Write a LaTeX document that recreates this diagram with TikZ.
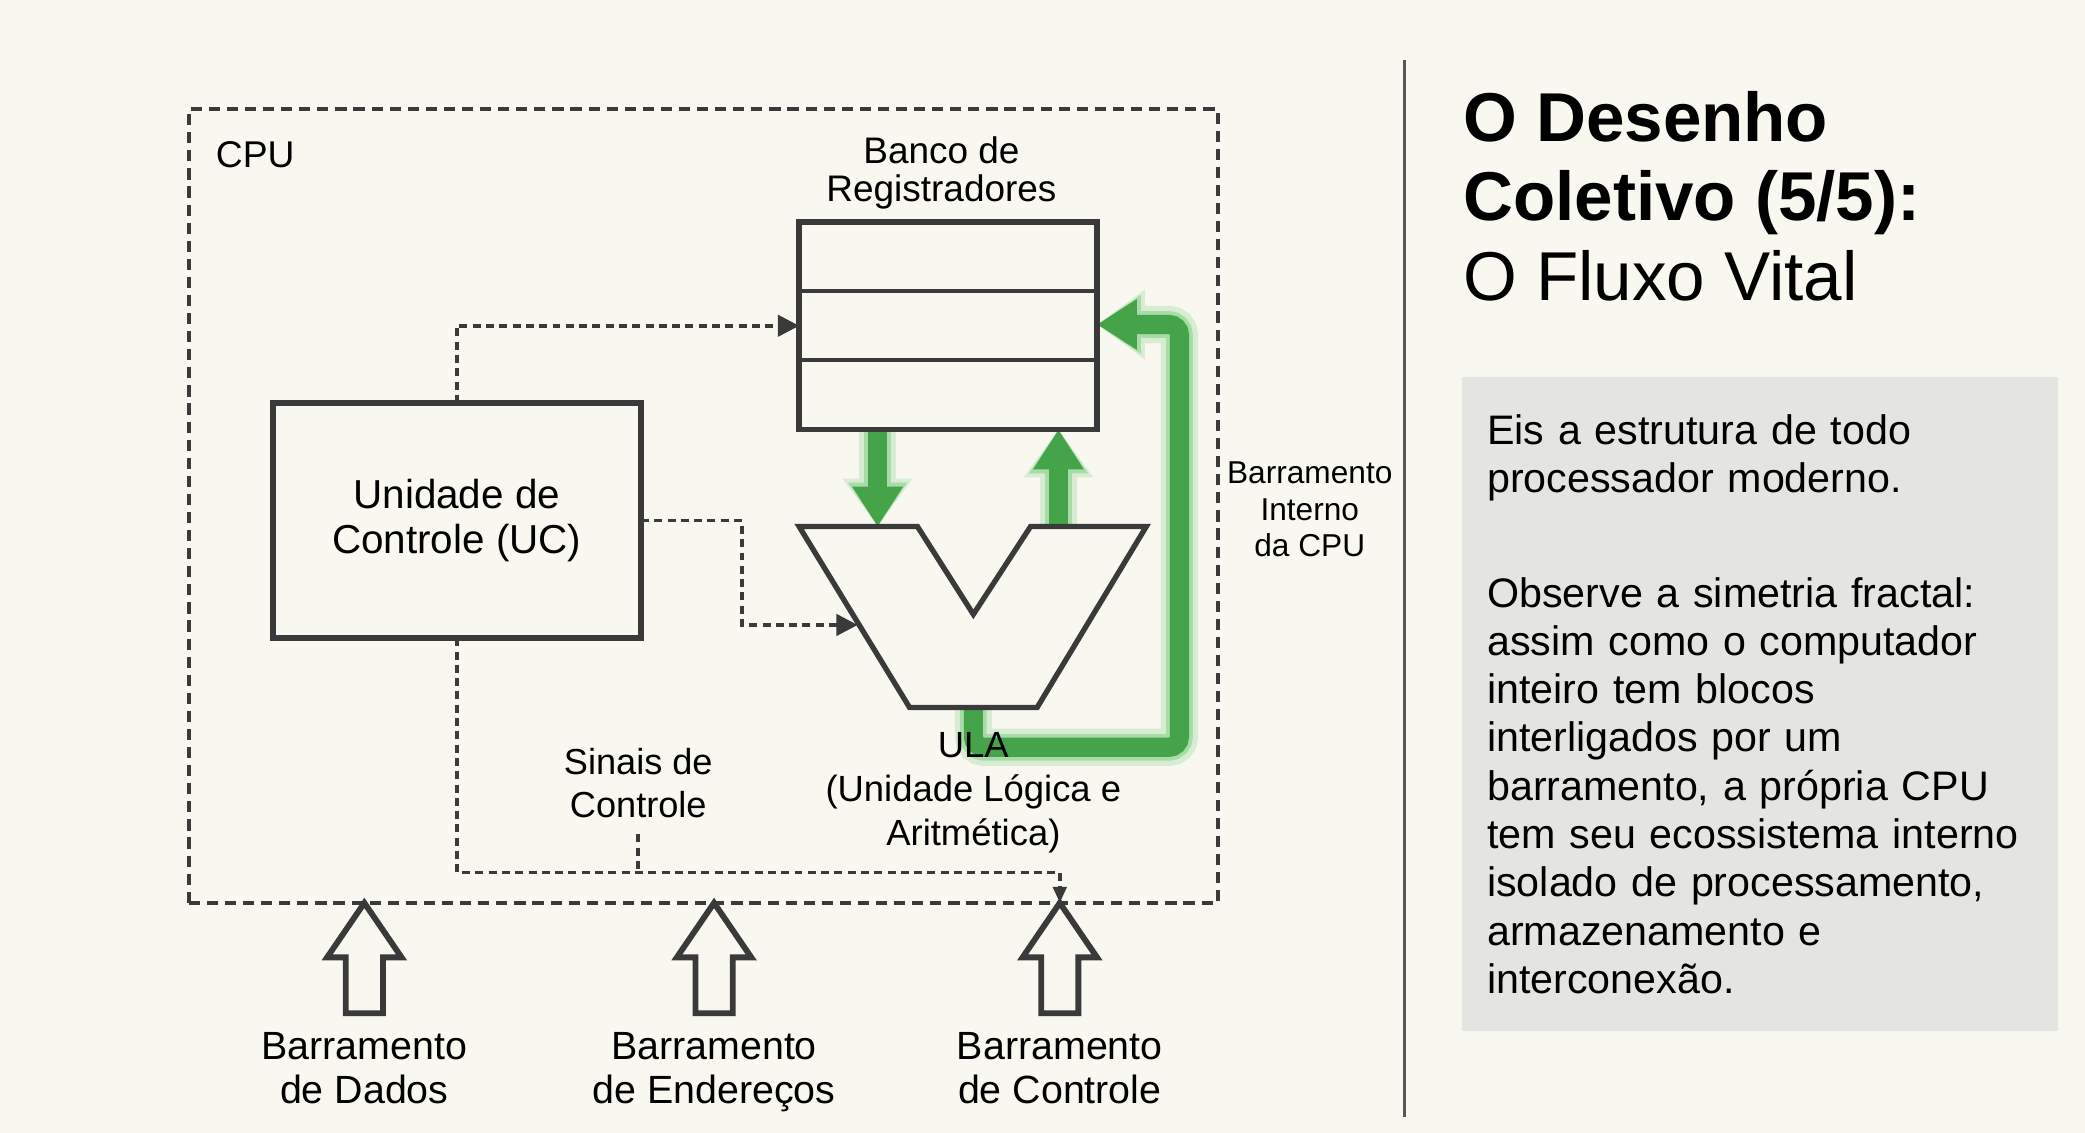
\documentclass[tikz,border=0pt]{standalone}
\usepackage{fontspec}
\setmainfont{Liberation Sans}
\usetikzlibrary{arrows.meta,calc,positioning}

\definecolor{paper}{HTML}{F8F7F0}
\definecolor{ink}{HTML}{3A3A3A}
\definecolor{busgreen}{HTML}{45A349}
\definecolor{glowgreen}{HTML}{A9DBA8}
\definecolor{hazegreen}{HTML}{D6EDD2}
\definecolor{notegray}{HTML}{E4E4E0}

\tikzset{
  block/.style={draw=ink, line width=2.2pt, fill=paper, align=center, inner sep=0pt, outer sep=0pt},
  divider/.style={draw=ink, line width=1.6pt},
  alu/.style={draw=ink, line width=2pt, fill=paper},
  cpubox/.style={draw=ink, line width=1.5pt, dash pattern=on 4.2pt off 2.6pt},
  signal/.style={draw=ink, line width=1.35pt, dash pattern=on 3pt off 2pt},
  sigtip/.style={-{Triangle[length=8pt,width=8pt]}},
  smalltip/.style={-{Triangle[length=6pt,width=5pt]}},
  busline/.style={busgreen, line width=7.2pt, -{Triangle[length=15pt,width=18pt]}},
  busglow/.style={glowgreen, line width=10pt, -{Triangle[length=16.5pt,width=21pt]}},
  bushaze/.style={hazegreen, line width=14pt, -{Triangle[length=18pt,width=25pt]}},
  hollow/.style={draw=ink, line width=2.2pt, fill=paper},
  txt/.style={align=center, inner sep=0pt},
  notebox/.style={anchor=north west, fill=notegray, minimum width=224pt,
    minimum height=246pt, text width=205pt, inner xsep=9.5pt, inner ysep=0pt,
    align=left, font=\fontsize{15.5}{18.15}\selectfont},
}

\begin{document}
\begin{tikzpicture}[x=0.5pt, y=-0.5pt]

    % --- Page ---
    \fill[paper] (0,0) rectangle (1568,852);
    \useasboundingbox (0,0) rectangle (1568,852);

    % --- CPU boundary ---
    \node[cpubox, minimum width=387pt, minimum height=298.5pt] (cpu) at (529,380.5) {};
    \node[txt, anchor=west, font=\fontsize{14}{16}\selectfont] (cpulabel) at (162,116) {CPU};

    % --- Register bank ---
    \node[block, minimum width=112pt, minimum height=78pt] (reg) at (713,245) {};
    \node[txt, font=\fontsize{13.9}{14.5}\selectfont] (reglabel) at (708,130) {Banco de\\Registradores};

    % --- ALU ports and internal bus corners ---
    \coordinate (ina) at (660,396);
    \coordinate (inb) at (796,396);
    \coordinate (outc) at (732,532);
    \coordinate (ulactl) at (645,470);
    \coordinate (busbot) at (887,562);
    \coordinate (bustop) at (887,244);

    % --- Internal bus (green, glow first) ---
    \foreach \layer in {bushaze,busglow,busline} {
      \draw[\layer] (reg.south -| ina) -- (ina);
      \draw[\layer] (inb) -- (reg.south -| inb);
      \draw[\layer, rounded corners=4pt] (outc) -- (outc |- busbot) -- (busbot) -- (bustop) -- (reg.east |- bustop);
    }

    % redraw register outline and slots over the bus ends
    \draw[draw=ink, line width=2.2pt] (reg.north west) rectangle (reg.south east);
    \draw[divider] ($(reg.north west)!1/3!(reg.south west)$) -- ($(reg.north east)!1/3!(reg.south east)$);
    \draw[divider] ($(reg.north west)!2/3!(reg.south west)$) -- ($(reg.north east)!2/3!(reg.south east)$);

    % --- ALU ---
    \draw[alu] (601,396) -- (690,396) -- (732,462) -- (775,396) -- (862,396) -- (780,532) -- (684,532) -- cycle;
    \node[txt, font=\fontsize{13.7}{16.5}\selectfont] (ulalabel) at (732,596) {ULA\\(Unidade Lógica e\\Aritmética)};

    % --- Control unit ---
    \node[block, minimum width=138.5pt, minimum height=88.5pt, font=\fontsize{15.2}{17}\selectfont] (uc) at (343.5,391.5) {Unidade de\\Controle (UC)};

    % --- Control signals ---
    \coordinate (sigbus) at (797,656);
    \coordinate (ctltip) at (797,679);
    \draw[signal, sigtip] (uc.north) |- (reg.west);
    \draw[signal, sigtip] (uc.east) -- ++(76,0) |- (ulactl);
    \draw[signal, smalltip] (uc.south) |- (sigbus) -- (ctltip);
    \node[txt, font=\fontsize{13.6}{16}\selectfont] (sinais) at (480,589) {Sinais de\\Controle};
    \draw[signal] ([yshift=-6pt]sinais.south) -- (sinais.south |- sigbus);

    % --- Internal bus label ---
    \node[txt, font=\fontsize{11.9}{13.75}\selectfont] (buslabel) at (985,383) {Barramento\\Interno\\da CPU};

    % --- External buses ---
    \foreach \x/\name/\words in {274/busdados/{Barramento\\de Dados},
                                 537/busend/{Barramento\\de Endereços},
                                 797/busctl/{Barramento\\de Controle}} {
      \draw[hollow] (\x,679) -- ++(28,41) -- ++(-14,0) -- ++(0,42) -- ++(-28,0) -- ++(0,-42) -- ++(-14,0) -- cycle;
      \node[txt, anchor=north, font=\fontsize{14.8}{16.5}\selectfont] (\name) at (\x,776) {\words};
    }

    % --- Divider ---
    \draw[ink!85, line width=1pt] (1056,45) -- (1056,840);

    % --- Title ---
    \node[anchor=north west, align=left, inner sep=0pt, font=\fontsize{26}{30}\selectfont] (title) at (1100,68)
      {\textbf{O Desenho}\\\textbf{Coletivo (5/5):}\\O Fluxo Vital};

    % --- Note ---
    \node[notebox] (note) at (1099,283) {Eis a estrutura de todo\\processador moderno.\\[25pt]
      Observe a simetria fractal:\\assim como o computador\\inteiro tem blocos\\interligados por um\\
      barramento, a própria CPU\\tem seu ecossistema interno\\isolado de processamento,\\
      armazenamento e\\interconexão.};

\end{tikzpicture}
\end{document}
